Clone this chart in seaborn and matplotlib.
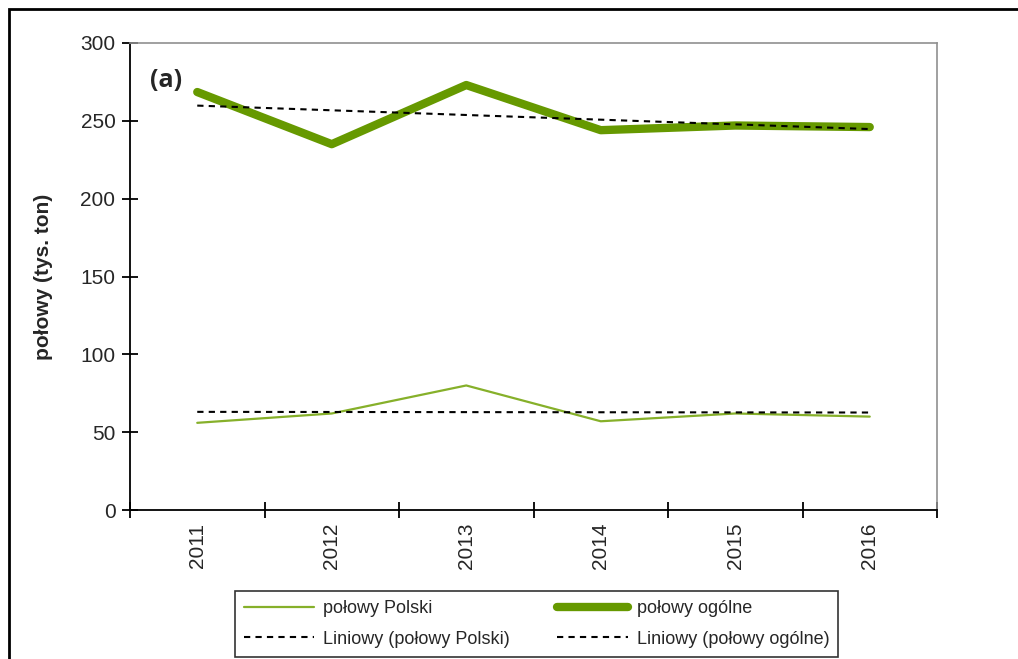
import matplotlib
matplotlib.use("Agg")
import matplotlib.pyplot as plt
import matplotlib.patches as mpatches
from matplotlib.lines import Line2D
import numpy as np
import pandas as pd
import seaborn as sns

# data
years = ["2011", "2012", "2013", "2014", "2015", "2016"]
polowy_polski = [56, 62, 80, 57, 62, 60]
polowy_ogolne = [268.5, 235, 273, 244, 247, 246]
y_ticks = [0, 50, 100, 150, 200, 250, 300]

GREEN_THIN = "#86b02a"
GREEN_THICK = "#669900"
DASH = (0, (3, 2.5))

sns.set_theme(style="white")
plt.rcParams["font.family"] = ["Liberation Sans", "DejaVu Sans"]

idx = np.arange(len(years))
df = pd.DataFrame({"idx": idx, "polski": polowy_polski, "ogolne": polowy_ogolne})

# linear trends ("Liniowy") fitted from the series
for col in ["polski", "ogolne"]:
    k, b = np.polyfit(df["idx"], df[col], 1)
    df[col + "_trend"] = k * df["idx"] + b

fig = plt.figure(figsize=(10.18, 6.59), dpi=100)
ax = fig.add_axes([130 / 1018, 1 - 510 / 659, (937 - 130) / 1018, (510 - 43) / 659])

sns.lineplot(data=df, x="idx", y="polski", ax=ax, color=GREEN_THIN, linewidth=1.6)
sns.lineplot(data=df, x="idx", y="ogolne", ax=ax, color=GREEN_THICK, linewidth=6,
             solid_capstyle="round", solid_joinstyle="round")
sns.lineplot(data=df, x="idx", y="polski_trend", ax=ax, color="black", linewidth=1.5,
             linestyle=DASH)
sns.lineplot(data=df, x="idx", y="ogolne_trend", ax=ax, color="black", linewidth=1.5,
             linestyle=DASH)

ax.set_xlim(-0.5, len(years) - 0.5)
ax.set_ylim(0, 300)
ax.set_yticks(y_ticks)
ax.set_yticklabels([str(v) for v in y_ticks], fontsize=15)
ax.set_xticks(np.arange(len(years) + 1) - 0.5)
ax.set_xticklabels([])
ax.set_xticks(idx, minor=True)
ax.set_xticklabels(years, minor=True, rotation=90, fontsize=15)
ax.tick_params(axis="x", which="minor", bottom=True, length=0, pad=9)
ax.tick_params(axis="both", which="major", bottom=True, left=True, direction="inout",
               length=11, width=1.3, color="black")
ax.tick_params(axis="y", pad=5)
ax.set_xlabel("")
ax.set_ylabel("połowy (tys. ton)", fontsize=15, fontweight="bold", labelpad=20)

for side in ["left", "bottom"]:
    ax.spines[side].set_color("black")
    ax.spines[side].set_linewidth(1.3)
for side in ["top", "right"]:
    ax.spines[side].set_color("#909090")
    ax.spines[side].set_linewidth(1.2)

ax.text(0.025, 0.92, "(a)", transform=ax.transAxes, fontsize=18, fontweight="bold",
        family=["Open Sans", "DejaVu Sans"], va="center")

handles = [
    Line2D([], [], color=GREEN_THIN, linewidth=1.6),
    Line2D([], [], color="black", linewidth=1.5, linestyle=DASH),
    Line2D([], [], color=GREEN_THICK, linewidth=6),
    Line2D([], [], color="black", linewidth=1.5, linestyle=DASH),
]
labels = ["połowy Polski", "Liniowy (połowy Polski)", "połowy ogólne", "Liniowy (połowy ogólne)"]
leg = fig.legend(handles, labels, ncol=2, loc="upper left",
                 bbox_to_anchor=(235 / 1018, 1 - 591 / 659), fontsize=13,
                 handlelength=3.9, handletextpad=0.5, columnspacing=2.6,
                 labelspacing=0.75, borderpad=0.5, borderaxespad=0,
                 fancybox=False, frameon=True)
leg.get_frame().set_edgecolor("black")
leg.get_frame().set_linewidth(1.2)

# outer chart border (left and top visible)
fig.patches.append(mpatches.Rectangle((9 / 1018, -0.1), 1.2, 1 - 9 / 659 + 0.1,
                                      transform=fig.transFigure, fill=False,
                                      edgecolor="black", linewidth=2))

fig.savefig("out.png", dpi=100)
